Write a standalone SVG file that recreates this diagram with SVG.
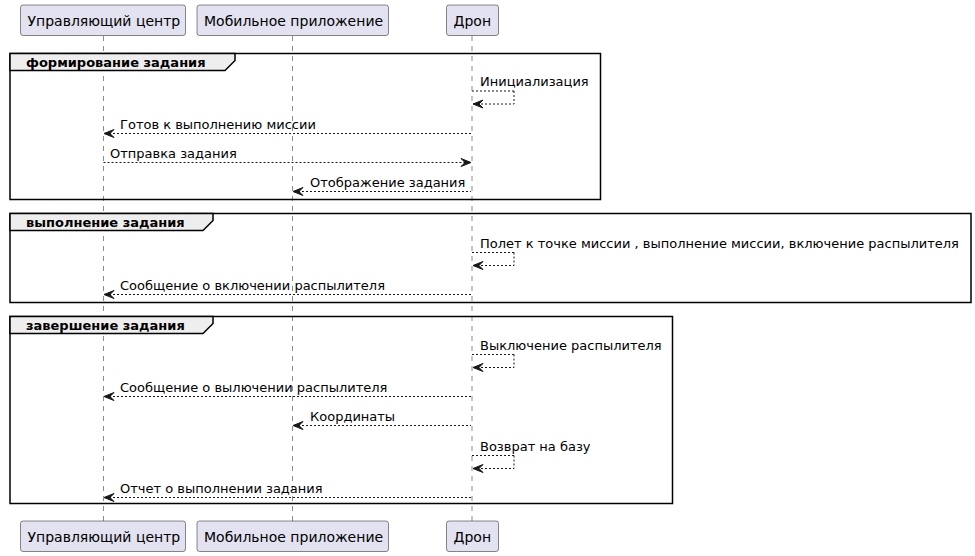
<svg xmlns="http://www.w3.org/2000/svg" width="975" height="556" viewBox="0 0 975 556">
<style>
.bg{fill:#FFFFFF}
.life{stroke:#181818;stroke-width:0.5;stroke-dasharray:5,5;fill:none}
.part{fill:#E2E2F0;stroke:#181818;stroke-width:0.5}
.ptxt{font-family:"DejaVu Sans",sans-serif;font-size:14px;fill:#000000}
.grp{fill:none;stroke:#000000;stroke-width:1.5}
.ghead{fill:#EEEEEE;stroke:#000000;stroke-width:1.5}
.gtxt{font-family:"DejaVu Sans",sans-serif;font-size:13px;font-weight:bold;fill:#000000}
.msg{stroke:#181818;stroke-width:1;stroke-dasharray:2,2;fill:none}
.head{fill:#181818;stroke:#181818;stroke-width:1}
.mtxt{font-family:"DejaVu Sans",sans-serif;font-size:13px;fill:#000000}
</style>
<rect class="bg" x="0" y="0" width="975" height="556"/>
<g id="lifelines">
<line class="life" x1="103.5" y1="36" x2="103.5" y2="521"/>
<line class="life" x1="292.5" y1="36" x2="292.5" y2="521"/>
<line class="life" x1="472" y1="36" x2="472" y2="521"/>
</g>
<g id="group-formation">
<rect class="grp" x="10" y="53.5" width="590.5" height="146"/>
<polygon class="ghead" points="10,53.5 235,53.5 235,60.5 225,70.5 10,70.5"/>
<text class="gtxt" x="26" y="66.5">формирование задания</text>
</g>
<g id="group-execution">
<rect class="grp" x="10" y="213.5" width="961" height="89"/>
<polygon class="ghead" points="10,213.5 213,213.5 213,220.5 203,230.5 10,230.5"/>
<text class="gtxt" x="26" y="226.5">выполнение задания</text>
</g>
<g id="group-completion">
<rect class="grp" x="10" y="316.5" width="662.5" height="187"/>
<polygon class="ghead" points="10,316.5 213,316.5 213,323.5 203,333.5 10,333.5"/>
<text class="gtxt" x="26" y="329.5">завершение задания</text>
</g>
<g id="participant-center">
<rect class="part" x="20.5" y="5" width="165" height="30.5" rx="2.5"/>
<text class="ptxt" x="27.5" y="25.5">Управляющий центр</text>
<rect class="part" x="20.5" y="521" width="165" height="30.5" rx="2.5"/>
<text class="ptxt" x="27.5" y="541.5">Управляющий центр</text>
</g>
<g id="participant-mobile">
<rect class="part" x="197" y="5" width="191.5" height="30.5" rx="2.5"/>
<text class="ptxt" x="204" y="25.5">Мобильное приложение</text>
<rect class="part" x="197" y="521" width="191.5" height="30.5" rx="2.5"/>
<text class="ptxt" x="204" y="541.5">Мобильное приложение</text>
</g>
<g id="participant-drone">
<rect class="part" x="446.5" y="5" width="52" height="30.5" rx="2.5"/>
<text class="ptxt" x="453.5" y="25.5">Дрон</text>
<rect class="part" x="446.5" y="521" width="52" height="30.5" rx="2.5"/>
<text class="ptxt" x="453.5" y="541.5">Дрон</text>
</g>
<g id="connectors">
<!-- self: Инициализация -->
<line class="msg" x1="472" y1="91" x2="514" y2="91"/>
<line class="msg" x1="514" y1="91" x2="514" y2="104"/>
<line class="msg" x1="473" y1="104" x2="514" y2="104"/>
<polygon class="head" points="473,104 483,100 479,104 483,108"/>
<text class="mtxt" x="480" y="86">Инициализация</text>
<!-- Готов -->
<line class="msg" x1="105" y1="133.5" x2="471" y2="133.5"/>
<polygon class="head" points="104,133.5 114,129.5 110,133.5 114,137.5"/>
<text class="mtxt" x="120" y="128.5">Готов к выполнению миссии</text>
<!-- Отправка -->
<line class="msg" x1="103.5" y1="162.5" x2="470" y2="162.5"/>
<polygon class="head" points="471,162.5 461,158.5 465,162.5 461,166.5"/>
<text class="mtxt" x="110" y="157.5">Отправка задания</text>
<!-- Отображение -->
<line class="msg" x1="294" y1="191.5" x2="471" y2="191.5"/>
<polygon class="head" points="293,191.5 303,187.5 299,191.5 303,195.5"/>
<text class="mtxt" x="310" y="186.5">Отображение задания</text>
<!-- self: Полет -->
<line class="msg" x1="472" y1="252.5" x2="514" y2="252.5"/>
<line class="msg" x1="514" y1="252.5" x2="514" y2="265.5"/>
<line class="msg" x1="473" y1="265.5" x2="514" y2="265.5"/>
<polygon class="head" points="473,265.5 483,261.5 479,265.5 483,269.5"/>
<text class="mtxt" x="480" y="247.5">Полет к точке миссии , выполнение миссии, включение распылителя</text>
<!-- Сообщение о включении -->
<line class="msg" x1="105" y1="294.5" x2="471" y2="294.5"/>
<polygon class="head" points="104,294.5 114,290.5 110,294.5 114,298.5"/>
<text class="mtxt" x="120" y="289.5">Сообщение о включении распылителя</text>
<!-- self: Выключение -->
<line class="msg" x1="472" y1="354.5" x2="514" y2="354.5"/>
<line class="msg" x1="514" y1="354.5" x2="514" y2="367.5"/>
<line class="msg" x1="473" y1="367.5" x2="514" y2="367.5"/>
<polygon class="head" points="473,367.5 483,363.5 479,367.5 483,371.5"/>
<text class="mtxt" x="480" y="349.5">Выключение распылителя</text>
<!-- Сообщение о вылючении -->
<line class="msg" x1="105" y1="396.5" x2="471" y2="396.5"/>
<polygon class="head" points="104,396.5 114,392.5 110,396.5 114,400.5"/>
<text class="mtxt" x="120" y="391.5">Сообщение о вылючении распылителя</text>
<!-- Координаты -->
<line class="msg" x1="294" y1="425.5" x2="471" y2="425.5"/>
<polygon class="head" points="293,425.5 303,421.5 299,425.5 303,429.5"/>
<text class="mtxt" x="310" y="420.5">Координаты</text>
<!-- self: Возврат -->
<line class="msg" x1="472" y1="455.5" x2="514" y2="455.5"/>
<line class="msg" x1="514" y1="455.5" x2="514" y2="468.5"/>
<line class="msg" x1="473" y1="468.5" x2="514" y2="468.5"/>
<polygon class="head" points="473,468.5 483,464.5 479,468.5 483,472.5"/>
<text class="mtxt" x="480" y="450.5">Возврат на базу</text>
<!-- Отчет -->
<line class="msg" x1="105" y1="497.5" x2="471" y2="497.5"/>
<polygon class="head" points="104,497.5 114,493.5 110,497.5 114,501.5"/>
<text class="mtxt" x="120" y="492.5">Отчет о выполнении задания</text>
</g>
</svg>
